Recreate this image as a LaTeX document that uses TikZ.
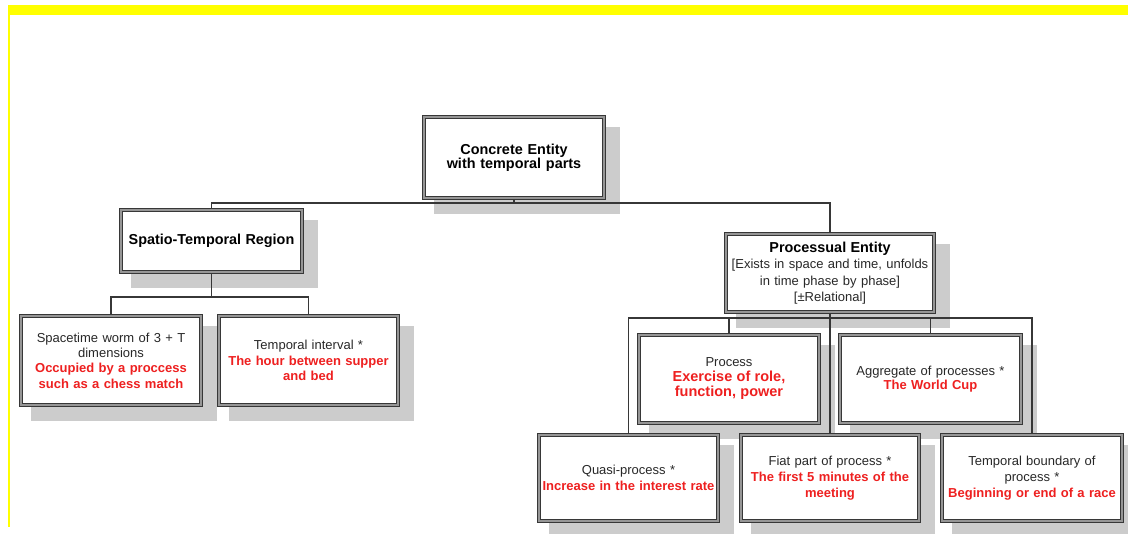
\documentclass[tikz,border=0pt]{standalone}
\usepackage{fontspec}
\setmainfont{Liberation Sans}
\definecolor{hilite}{RGB}{238,32,32}
\definecolor{frame}{RGB}{55,55,55}
\definecolor{midline}{RGB}{150,150,150}
\definecolor{shade}{RGB}{204,204,204}
\definecolor{marker}{RGB}{255,255,0}
\definecolor{ink}{RGB}{40,40,40}
\newcommand{\hl}[1]{{\color{hilite}\bfseries #1}}
\newcommand{\ttl}[1]{{\color{black}\bfseries\fontsize{14.4}{14}\selectfont #1}}
\pgfdeclarelayer{shadowlayer}
\pgfdeclarelayer{linklayer}
\pgfsetlayers{shadowlayer,linklayer,main}
\tikzset{
  box/.style={draw=frame, line width=1.1pt, double=midline, double distance=1.8pt,
    fill=white, inner sep=0pt, align=center, text=ink, text width=178pt,
    font=\fontsize{13}{15.3}\selectfont, minimum width=180pt, minimum height=87pt},
  lowbox/.style={box, minimum height=86.6pt, font=\fontsize{13}{15.9}\selectfont},
  link/.style={draw=frame, line width=1.2pt},
  shadowfill/.style={fill=shade},
}
\begin{document}
\begin{tikzpicture}[x=1pt, y=-1pt]
\useasboundingbox (0,0) rectangle (1128,534);

% boxes
\node[box, minimum width=180pt, minimum height=80.6pt, font=\fontsize{14.4}{14}\selectfont]
  (root) at (514,157.5) {\ttl{Concrete Entity}\\\ttl{with temporal parts}};
\node[box, minimum width=180.6pt, minimum height=61.6pt]
  (spatio) at (211.5,241) {\ttl{Spatio-Temporal Region}};
\node[box, minimum width=179.6pt, minimum height=88.6pt]
  (worm) at (111,360.5) {Spacetime worm of 3 + T\\dimensions\\\hl{Occupied by a proccess}\\\hl{such as a chess match}};
\node[box, minimum width=178.6pt, minimum height=88.6pt]
  (interval) at (308.5,360.5) {Temporal interval *\\\hl{The hour between supper}\\\hl{and bed}};
\node[box, minimum width=207.6pt, minimum height=77.6pt, text width=205pt, font=\fontsize{13}{16.5}\selectfont]
  (procent) at (830,273) {\ttl{Processual Entity}\\\relax[Exists in space and time, unfolds\\in time phase by phase]\\\relax[±Relational]};
\node[box, minimum width=179.6pt, minimum height=87.6pt, font=\fontsize{13}{15}\selectfont]
  (process) at (729,379) {Process\\{\color{hilite}\bfseries\fontsize{14.5}{15}\selectfont Exercise of role,}\\{\color{hilite}\bfseries\fontsize{14.5}{15}\selectfont function, power}};
\node[box, minimum width=180.6pt, minimum height=87.6pt, font=\fontsize{13}{14.5}\selectfont]
  (aggregate) at (930.5,379) {Aggregate of processes *\\\hl{The World Cup}};
\node[lowbox, minimum width=178.6pt]
  (quasi) at (628.5,478) {Quasi-process *\\\hl{Increase in the interest rate}};
\node[lowbox, minimum width=178.6pt]
  (fiat) at (830,478) {Fiat part of process *\\\hl{The first 5 minutes of the}\\\hl{meeting}};
\node[lowbox, minimum width=179.6pt]
  (boundary) at (1032,478) {Temporal boundary of\\process *\\\hl{Beginning or end of a race}};

% page ground, yellow frame edges and drop shadows behind every box
\begin{pgfonlayer}{shadowlayer}
  \fill[white] (0,0) rectangle (1128,534);
  \fill[marker] (8,5) rectangle (1128,15);
  \fill[marker] (8,15) rectangle (10,527);
  \foreach \n in {root,spatio,worm,interval,procent,process,aggregate,quasi,fiat,boundary}
    \fill[shadowfill] ([shift={(10.8,10.8)}]\n.north west) rectangle ([shift={(15.2,15.2)}]\n.south east);
\end{pgfonlayer}

% tree connectors
\coordinate (busroot) at (0,203);
\coordinate (busspatio) at (0,297);
\coordinate (busproc) at (0,318);
\begin{pgfonlayer}{linklayer}
  \draw[link] (root.south) -- (root.south |- busroot) -| (spatio.north);
  \draw[link] (root.south |- busroot) -| (procent.north);
  \draw[link] (spatio.south) -- (spatio.south |- busspatio) -| (worm.north);
  \draw[link] (spatio.south |- busspatio) -| (interval.north);
  \draw[link] (procent.south) -- (fiat.north);
  \draw[link] (quasi.north) |- (procent.south |- busproc) -| (boundary.north);
  \draw[link] (process.north) -- (process.north |- busproc);
  \draw[link] (aggregate.north) -- (aggregate.north |- busproc);
\end{pgfonlayer}
\end{tikzpicture}
\end{document}
